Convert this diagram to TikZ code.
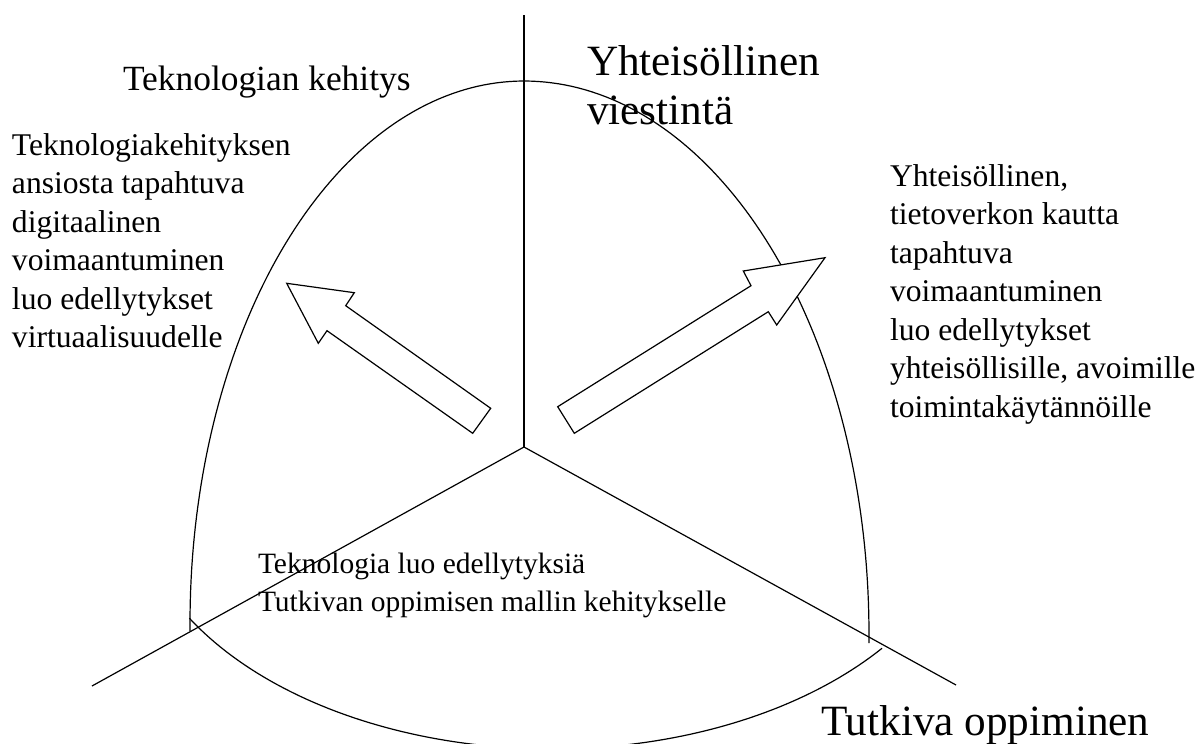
\documentclass[tikz,border=0pt]{standalone}
\usepackage{fontspec}
\setmainfont{Liberation Serif}
\begin{document}
\begin{tikzpicture}[x=1pt,y=-1pt,
  line width=1.2pt,
  txt/.style={anchor=base west,inner sep=0pt,outer sep=0pt},
  body/.style={txt,font=\fontsize{31.6}{38.5}\selectfont},
  small/.style={txt,font=\fontsize{29.5}{38}\selectfont},
  head/.style={txt,font=\fontsize{35.4}{42}\selectfont},
  big/.style={txt,font=\fontsize{43.2}{49.5}\selectfont},
  blockarrow/.style={draw=black,fill=white,line width=1.2pt,line join=miter}]
\useasboundingbox (0,0) rectangle (1202,744);

% axes meeting in the centre
\coordinate (c) at (524,447);
\coordinate (top) at (524,15);
\coordinate (ll) at (92,686);
\coordinate (lr) at (956,685);
\draw (top) -- (c);
\draw (c) -- (ll);
\draw (c) -- (lr);

% the arched outline
\draw (190,631) -- plot[domain=180:90,samples=80] ({524+334*cos(\x)},{623-542*sin(\x)})
      -- plot[domain=90:0,samples=80] ({524+345*cos(\x)},{634-553*sin(\x)}) -- (869,643);
\draw plot[domain=149.7:38.2,samples=90] ({552+420*cos(\x)},{485+264*sin(\x)});

% hollow block arrows
\draw[blockarrow] (286.7,283.3) -- (354.3,292.7) -- (345.7,305.7) -- (490.7,408.3)
  -- (472.7,433.3) -- (327,330.7) -- (318.3,343.3) -- cycle;
\draw[blockarrow] (825,257.7) -- (776.7,325) -- (768.3,311.7) -- (574.3,433.3)
  -- (557.7,406.7) -- (751,285.7) -- (743.3,271) -- cycle;

% headings
\node[head] (tk) at (123,90) {Teknologian kehitys};
\node[big] (yv1) at (587,75) {Yhteisöllinen};
\node[big] (yv2) at (587,124.3) {viestintä};
\node[big] (to) at (821,735) {Tutkiva oppiminen};

% left text block
\foreach \t [count=\i from 0] in {Teknologiakehityksen,ansiosta tapahtuva,digitaalinen,voimaantuminen,luo edellytykset,virtuaalisuudelle}
  \node[body] (l\i) at (12,155+38.5*\i) {\t};

% right text block
\foreach \t [count=\i from 0] in {{Yhteisöllinen,},tietoverkon kautta,tapahtuva,voimaantuminen,luo edellytykset,{yhteisöllisille, avoimille},toimintakäytännöille}
  \node[body] (r\i) at (890,186+38.5*\i) {\t};

% bottom text
\node[small] (b0) at (258,573) {Teknologia luo edellytyksiä};
\node[small] (b1) at (258,611.5) {Tutkivan oppimisen mallin kehitykselle};
\end{tikzpicture}
\end{document}
